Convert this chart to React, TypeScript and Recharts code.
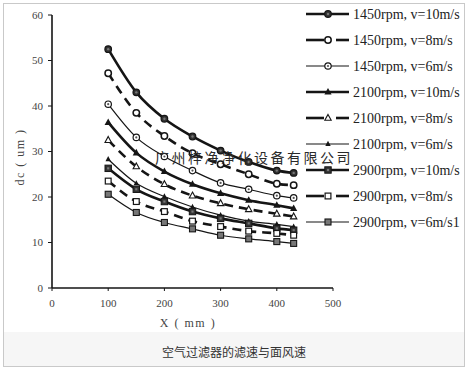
import { LineChart, Line, XAxis, YAxis } from "recharts"

const xMm = [100, 150, 200, 250, 300, 350, 400, 430]

const r1450v10 = [52.5, 43, 37.2, 33.3, 30.2, 27.7, 25.8, 25.3]
const r1450v8 = [47.2, 38.5, 33.4, 29.6, 27.2, 25, 22.9, 22.6]
const r1450v6 = [40.4, 33.1, 28.9, 25.8, 23.1, 21.7, 20.3, 19.8]
const r2100v10 = [36.4, 29.7, 25.6, 22.8, 20.8, 19.3, 18.2, 17.5]
const r2100v8 = [32.5, 26.7, 22.8, 20.3, 18.6, 17.3, 16.3, 15.7]
const r2100v6 = [28.3, 23, 20.1, 17.8, 16, 14.7, 14, 13.5]
const r2900v10 = [26.3, 21.7, 19, 16.8, 15.3, 14.2, 13.1, 12.7]
const r2900v8 = [23.5, 19, 16.8, 14.7, 13.5, 12.5, 12, 11.6]
const r2900v6 = [20.6, 16.6, 14.4, 13, 11.6, 10.8, 10.2, 9.8]

const seriesNames = [
  "1450rpm, v=10m/s",
  "1450rpm, v=8m/s",
  "1450rpm, v=6m/s",
  "2100rpm, v=10m/s",
  "2100rpm, v=8m/s",
  "2100rpm, v=6m/s",
  "2900rpm, v=10m/s",
  "2900rpm, v=8m/s",
  "2900rpm, v=6m/s1",
]

const xTicks = [0, 100, 200, 300, 400, 500]
const yTicks = [0, 10, 20, 30, 40, 50, 60]

const allSeries = [r1450v10, r1450v8, r1450v6, r2100v10, r2100v8, r2100v6, r2900v10, r2900v8, r2900v6]

const rows = xMm.map((x, i) => {
  const row: Record<string, number> = { x }
  allSeries.forEach((s, k) => {
    row["s" + k] = s[i]
  })
  return row
})

type Style = "thick" | "dash" | "thin"
type Marker = "circFill" | "circOpen" | "circDot" | "triFill" | "triOpen" | "triSmall" | "sqFill" | "sqOpen" | "sqGray"

const looks: { style: Style; marker: Marker }[] = [
  { style: "thick", marker: "circFill" },
  { style: "dash", marker: "circOpen" },
  { style: "thin", marker: "circDot" },
  { style: "thick", marker: "triFill" },
  { style: "dash", marker: "triOpen" },
  { style: "thin", marker: "triSmall" },
  { style: "thick", marker: "sqFill" },
  { style: "dash", marker: "sqOpen" },
  { style: "thin", marker: "sqGray" },
]

const ink = "#151515"

function marker(kind: Marker, cx: number, cy: number, key?: string) {
  if (cx == null || cy == null) return <g key={key} />
  switch (kind) {
    case "circFill":
      return (
        <g key={key}>
          <circle cx={cx} cy={cy} r={3.3} fill="#333" stroke={ink} strokeWidth={1.2} />
          <circle cx={cx} cy={cy} r={1.2} fill="#777" />
        </g>
      )
    case "circOpen":
      return <circle key={key} cx={cx} cy={cy} r={3.2} fill="#fff" stroke={ink} strokeWidth={1.5} />
    case "circDot":
      return (
        <g key={key}>
          <circle cx={cx} cy={cy} r={3.2} fill="#fff" stroke={ink} strokeWidth={1.2} />
          <circle cx={cx} cy={cy} r={1.1} fill="#555" />
        </g>
      )
    case "triFill":
      return <path key={key} d={`M${cx},${cy - 4}L${cx + 3.6},${cy + 2.6}L${cx - 3.6},${cy + 2.6}Z`} fill={ink} />
    case "triOpen":
      return (
        <path key={key} d={`M${cx},${cy - 3.6}L${cx + 3.2},${cy + 2.3}L${cx - 3.2},${cy + 2.3}Z`} fill="#fff" stroke={ink} strokeWidth={1.1} />
      )
    case "triSmall":
      return <path key={key} d={`M${cx},${cy - 3.2}L${cx + 2.7},${cy + 2}L${cx - 2.7},${cy + 2}Z`} fill={ink} />
    case "sqFill":
      return (
        <g key={key}>
          <rect x={cx - 3.2} y={cy - 3.2} width={6.4} height={6.4} fill="#333" stroke={ink} strokeWidth={1} />
          <rect x={cx - 1.1} y={cy - 1.1} width={2.2} height={2.2} fill="#777" />
        </g>
      )
    case "sqOpen":
      return <rect key={key} x={cx - 2.9} y={cy - 2.9} width={5.8} height={5.8} fill="#fff" stroke={ink} strokeWidth={1.2} />
    case "sqGray":
      return <rect key={key} x={cx - 3} y={cy - 3} width={6} height={6} fill="#777" stroke={ink} strokeWidth={1.1} />
  }
}

function strokeProps(style: Style) {
  if (style === "thick") return { strokeWidth: 2.6 }
  if (style === "dash") return { strokeWidth: 2.6, strokeDasharray: "9 6" }
  return { strokeWidth: 1.2 }
}

const serif = "'Liberation Serif', 'DejaVu Serif', serif"

export default function App() {
  return (
    <div style={{ position: "absolute", left: 0, top: 0, width: 468, height: 370, background: "#fff" }}>
      <svg width={468} height={370} style={{ position: "absolute", left: 0, top: 0 }}>
        <rect x={4} y={332} width={460} height={34} fill="#f6f6f6" />
        <rect x={3.5} y={3.5} width={461} height={363} fill="none" stroke="#c9c9c9" />
      </svg>
      <div style={{ position: "absolute", left: 0, top: 0 }}>
        <LineChart width={468} height={370} data={rows} margin={{ top: 15, right: 135, bottom: 52, left: 22 }}>
          <XAxis
            type="number"
            dataKey="x"
            domain={[0, 500]}
            ticks={xTicks}
            height={30}
            axisLine={{ stroke: ink, strokeWidth: 1.6 }}
            tickLine={{ stroke: ink }}
            tickSize={3}
            tickMargin={8}
            tick={{ fill: "#444", fontSize: 11, fontFamily: serif }}
          />
          <YAxis
            type="number"
            domain={[0, 60]}
            ticks={yTicks}
            width={30}
            axisLine={{ stroke: ink, strokeWidth: 1.6 }}
            tickLine={{ stroke: ink }}
            tickSize={4}
            tickMargin={5}
            tick={{ fill: "#444", fontSize: 11, fontFamily: serif }}
          />
          {looks.map((lk, k) => (
            <Line
              key={k}
              dataKey={"s" + k}
              name={seriesNames[k]}
              type="monotone"
              stroke={ink}
              {...strokeProps(lk.style)}
              dot={(p: any) => marker(lk.marker, p.cx, p.cy, `${k}-${p.index}`)}
              activeDot={false}
              isAnimationActive={false}
            />
          ))}
        </LineChart>
      </div>
      <svg width={468} height={370} style={{ position: "absolute", left: 0, top: 0, pointerEvents: "none" }}>
        <text
          x={155}
          y={163}
          fontSize={14}
          letterSpacing={2.5}
          fill="#2a2a2a"
          fontFamily="'Noto Sans CJK SC', sans-serif"
        >
          广州梓净净化设备有限公司
        </text>
        <text
          transform="translate(24,157) rotate(-90)"
          textAnchor="middle"
          fontSize={12}
          letterSpacing={1.5}
          fill="#444"
          fontFamily={serif}
        >
          dc ( um )
        </text>
        <text x={188} y={327} textAnchor="middle" fontSize={12} letterSpacing={1.5} fill="#444" fontFamily={serif}>
          X ( mm )
        </text>
        <text x={234} y={357} textAnchor="middle" fontSize={12} fill="#333" fontFamily="'Noto Sans CJK SC', sans-serif">
          空气过滤器的滤速与面风速
        </text>
        {looks.map((lk, k) => {
          const y = 14 + 26 * k
          const sw = strokeProps(lk.style).strokeWidth
          return (
            <g key={k}>
              {lk.style === "dash" ? (
                <>
                  <line x1={306} x2={324} y1={y} y2={y} stroke={ink} strokeWidth={sw} />
                  <line x1={336} x2={349} y1={y} y2={y} stroke={ink} strokeWidth={sw} />
                </>
              ) : (
                <line x1={306} x2={349} y1={y} y2={y} stroke={ink} strokeWidth={sw} />
              )}
              {marker(lk.marker, 328, y)}
              <text x={353} y={y + 5} fontSize={14} fill="#222" fontFamily={serif}>
                {seriesNames[k]}
              </text>
            </g>
          )
        })}
      </svg>
    </div>
  )
}
